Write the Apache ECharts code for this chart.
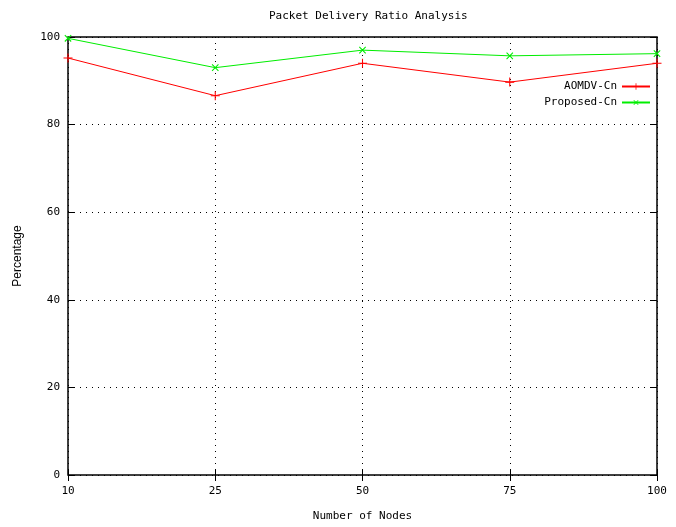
<!DOCTYPE html>
<html>
<head>
<meta charset="utf-8">
<script src="https://cdn.jsdelivr.net/npm/echarts@6/dist/echarts.min.js"></script>
<style>
  html, body { margin: 0; padding: 0; background: #fff; }
  #chart { width: 676px; height: 527px; }
</style>
</head>
<body>
<div id="chart"></div>
<script>
// values
const nodes = ['10', '25', '50', '75', '100'];
const aomdv = [95.2, 86.6, 94.0, 89.7, 94.0];
const proposed = [99.7, 93.0, 97.0, 95.7, 96.2];
const yTicks = { min: 0, max: 100, step: 20 };

const mono = 'DejaVu Sans Mono';
const tickStyle = { show: true, inside: true, length: 6, lineStyle: { color: '#000', width: 1 } };
const dotted = { show: true, lineStyle: { color: '#000', width: 1, type: [1, 5] } };

// gnuplot-like markers: "+" for the first series, "x" for the second (rotated +)
const plus = 'path://M4.4,0h1.2v10h-1.2z M0,4.4h10v1.2h-10z';

const chart = echarts.init(document.getElementById('chart'));
chart.setOption({
  animation: false,
  backgroundColor: '#fff',
  title: {
    text: 'Packet Delivery Ratio Analysis',
    left: 264,
    top: 6,
    textStyle: { fontFamily: mono, fontSize: 11, fontWeight: 'normal', color: '#000' }
  },
  legend: {
    orient: 'vertical',
    right: 20,
    top: 76,
    align: 'right',
    itemWidth: 28,
    itemHeight: 8,
    itemGap: 5,
    textStyle: { fontFamily: mono, fontSize: 11, color: '#000' },
    data: ['AOMDV-Cn', 'Proposed-Cn']
  },
  grid: {
    left: 68, right: 19, top: 37, bottom: 49,
    show: true, borderColor: '#000', borderWidth: 1.5,
    containLabel: false
  },
  xAxis: [{
    type: 'category',
    data: nodes,
    boundaryGap: false,
    name: 'Number of Nodes',
    nameLocation: 'middle',
    nameGap: 36,
    nameTextStyle: { fontFamily: mono, fontSize: 11, color: '#000' },
    axisLine: { show: false },
    axisTick: tickStyle,
    axisLabel: { fontFamily: mono, fontSize: 11, color: '#000', margin: 11 },
    splitLine: dotted
  }, {
    type: 'category',
    data: nodes,
    boundaryGap: false,
    position: 'top',
    axisLine: { show: false },
    axisTick: tickStyle,
    axisLabel: { show: false },
    splitLine: { show: false }
  }],
  yAxis: [{
    type: 'value',
    min: yTicks.min, max: yTicks.max, interval: yTicks.step,
    name: 'Percentage',
    nameLocation: 'middle',
    nameGap: 44,
    nameTextStyle: { fontFamily: 'Liberation Sans', fontSize: 12, color: '#000' },
    axisLine: { show: false },
    axisTick: tickStyle,
    axisLabel: { fontFamily: mono, fontSize: 11, color: '#000', margin: 8 },
    splitLine: dotted
  }, {
    type: 'value',
    position: 'right',
    min: yTicks.min, max: yTicks.max, interval: yTicks.step,
    axisLine: { show: false },
    axisTick: tickStyle,
    axisLabel: { show: false },
    splitLine: { show: false }
  }],
  series: [{
    name: 'AOMDV-Cn',
    type: 'line',
    data: aomdv,
    symbol: plus,
    symbolSize: 9,
    lineStyle: { color: '#ff0000', width: 1 },
    itemStyle: { color: '#ff0000' }
  }, {
    name: 'Proposed-Cn',
    type: 'line',
    data: proposed,
    symbol: plus,
    symbolSize: 9,
    symbolRotate: 45,
    lineStyle: { color: '#00ee00', width: 1 },
    itemStyle: { color: '#00ee00' }
  }]
});
</script>
</body>
</html>
